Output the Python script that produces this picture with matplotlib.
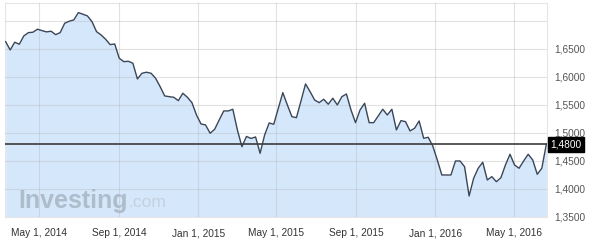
import numpy as np
import pandas as pd
import matplotlib
matplotlib.use("Agg")
import matplotlib.pyplot as plt
import matplotlib.dates as mdates
from matplotlib.ticker import FuncFormatter

plt.rcParams['font.family'] = ['Liberation Sans', 'DejaVu Sans']

# weekly closes, Mar 2014 - Jun 2016
start_date = "2014-03-10"
values = [
    1.6630, 1.6482, 1.6620, 1.6584, 1.6732, 1.6791, 1.6798, 1.6852, 1.6827, 1.6804,
    1.6816, 1.6755, 1.6791, 1.6959, 1.6995, 1.7018, 1.7148, 1.7120, 1.7089, 1.6988,
    1.6809, 1.6750, 1.6673, 1.6577, 1.6589, 1.6334, 1.6273, 1.6280, 1.6245, 1.5964,
    1.6066, 1.6084, 1.6066, 1.5977, 1.5827, 1.5661, 1.5648, 1.5637, 1.5577, 1.5709,
    1.5637, 1.5541, 1.5321, 1.5161, 1.5143, 1.4995, 1.5066, 1.5232, 1.5393, 1.5393,
    1.5423, 1.5054, 1.4755, 1.4938, 1.4902, 1.4929, 1.4637, 1.4964, 1.5179, 1.5155,
    1.5437, 1.5720, 1.5500, 1.5291, 1.5273, 1.5571, 1.5875, 1.5738, 1.5589, 1.5541,
    1.5602, 1.5513, 1.5620, 1.5500, 1.5648, 1.5696, 1.5411, 1.5184, 1.5411, 1.5530,
    1.5184, 1.5184, 1.5304, 1.5423, 1.5321, 1.5423, 1.5054, 1.5220, 1.5202, 1.5036,
    1.5084, 1.5214, 1.4905, 1.4923, 1.4768, 1.4518, 1.4250, 1.4250, 1.4250, 1.4500,
    1.4500, 1.4398, 1.3875, 1.4191, 1.4370, 1.4477, 1.4161, 1.4220, 1.4130, 1.4202,
    1.4429, 1.4620, 1.4429, 1.4370, 1.4500, 1.4620, 1.4518, 1.4262, 1.4370, 1.4800,
]
dates = pd.date_range(start_date, periods=len(values), freq="7D")
last_value = 1.48
y_ticks = [1.35, 1.40, 1.45, 1.50, 1.55, 1.60, 1.65, 1.70]

fig = plt.figure(figsize=(6, 2.52), dpi=100)
ax = fig.add_axes([5 / 600, 35 / 252, 542 / 600, 214 / 252])

y_min, y_max = 1.35, 1.732
ax.fill_between(dates, values, y_min, color="#d5e8fb", lw=0, zorder=1)
ax.plot(dates, values, color="#3a4658", lw=1.0, zorder=3)
ax.axhline(last_value, color="#3c3c3c", lw=1.2, zorder=4)

ax.set_xlim(pd.Timestamp("2014-03-09"), pd.Timestamp("2016-06-21"))
ax.set_ylim(y_min, y_max)

ax.xaxis.set_major_locator(mdates.MonthLocator(bymonth=[1, 5, 9], bymonthday=1))
ax.xaxis.set_major_formatter(FuncFormatter(
    lambda x, p: (lambda d: f"{d:%b} {d.day}, {d.year}")(mdates.num2date(x))))
ax.set_yticks(y_ticks)
ax.yaxis.set_major_formatter(FuncFormatter(
    lambda v, p: "" if v > 1.67 else f"{v:.4f}".replace(".", ",")))
ax.yaxis.tick_right()

ax.tick_params(axis="x", length=0, pad=8, labelsize=7.3, labelcolor="#333333")
ax.tick_params(axis="y", length=0, pad=5, labelsize=7.3, labelcolor="#555555")
for lab in ax.get_yticklabels():
    lab.set_horizontalalignment("left")

ax.grid(True, color="#b8b8b8", alpha=0.4, lw=0.8, zorder=2)
ax.set_axisbelow(False)
for s in ax.spines.values():
    s.set_color("#e6e6e6")
    s.set_linewidth(0.8)

ax.annotate(f"{last_value:.4f}".replace(".", ","), xy=(1.0, last_value),
            xycoords=("axes fraction", "data"), xytext=(2.5, 0),
            textcoords="offset points", ha="left", va="center",
            fontsize=7.3, color="white", zorder=6,
            bbox=dict(boxstyle="square,pad=0.25", fc="black", ec="black"),
            annotation_clip=False)

# watermark
ax.text(13 / 542, 0.02, "Investing", transform=ax.transAxes, fontsize=18,
        fontweight="bold", color="#aebccc", ha="left", va="bottom", zorder=2)
ax.text(123 / 542, 0.035, ".com", transform=ax.transAxes, fontsize=12.5,
        color="#c3d0df", ha="left", va="bottom", zorder=2)

fig.savefig("out.png", dpi=100)
